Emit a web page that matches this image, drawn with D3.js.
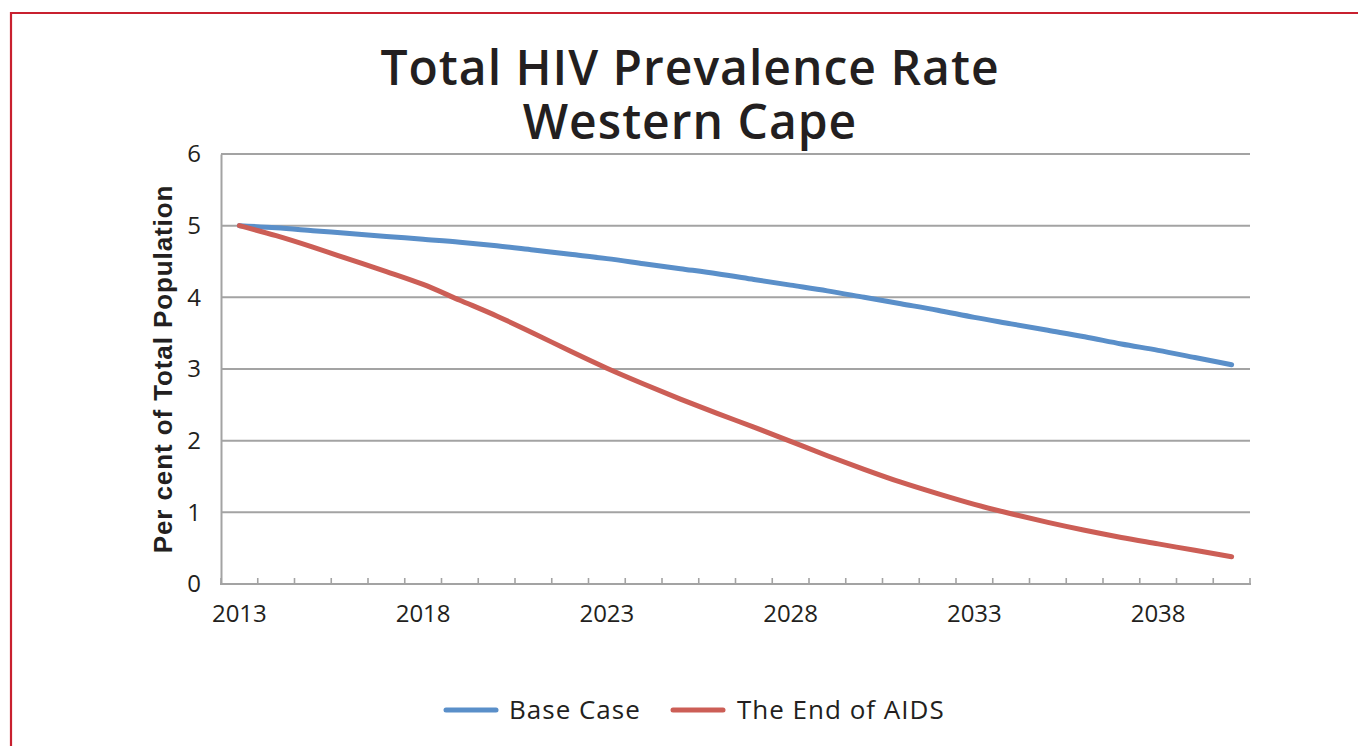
<!DOCTYPE html>
<html>
<head>
<meta charset="utf-8">
<script src="https://cdn.jsdelivr.net/npm/d3@7"></script>
<style>
  html, body { margin: 0; padding: 0; background: #fff; }
  svg { display: block; }
  text { font-family: "Open Sans", "Noto Sans", sans-serif; fill: #231f20; }
</style>
</head>
<body>
<svg id="chart" width="1358" height="746"></svg>
<script>
const years = [2013,2014,2015,2016,2017,2018,2019,2020,2021,2022,2023,2024,2025,2026,2027,2028,2029,2030,2031,2032,2033,2034,2035,2036,2037,2038,2039,2040];
const baseCase = [5.00,4.97,4.93,4.89,4.85,4.81,4.77,4.72,4.66,4.60,4.54,4.47,4.40,4.33,4.25,4.17,4.09,4.00,3.91,3.82,3.72,3.63,3.54,3.45,3.35,3.26,3.16,3.06];
const endOfAids = [5.00,4.86,4.70,4.53,4.36,4.18,3.96,3.74,3.50,3.25,3.01,2.79,2.58,2.38,2.19,1.99,1.79,1.60,1.42,1.26,1.11,0.98,0.86,0.75,0.65,0.56,0.47,0.38];
const yTicks = [0,1,2,3,4,5,6];
const xLabelYears = [2013,2018,2023,2028,2033,2038];
const seriesNames = ["Base Case", "The End of AIDS"];
const seriesColors = ["#5a8fc9", "#cc5e56"];
const titleLines = ["Total HIV Prevalence Rate", "Western Cape"];
const yAxisTitle = "Per cent of Total Population";

const svg = d3.select("#chart");
const pLeft = 221, pRight = 1250, pTop = 154, pBottom = 584;

// frame
svg.append("path")
  .attr("d", `M11,760 L11,13 L1370,13`)
  .attr("fill", "none").attr("stroke", "#c8202f").attr("stroke-width", 2.2);

const x = d3.scaleBand().domain(years).range([pLeft, pRight]).padding(0);
const y = d3.scaleLinear().domain([0, 6]).range([pBottom, pTop]);

// gridlines
svg.append("g").selectAll("line").data(yTicks.filter(d => d > 0)).join("line")
  .attr("x1", pLeft).attr("x2", pRight)
  .attr("y1", d => y(d)).attr("y2", d => y(d))
  .attr("stroke", "#a3a3a3").attr("stroke-width", 2);

// y axis
const yAxis = svg.append("g").attr("transform", `translate(${pLeft},0)`)
  .call(d3.axisLeft(y).tickValues(yTicks).tickFormat(d3.format("d")).tickSize(0).tickPadding(20));
yAxis.select(".domain").attr("stroke", "#a3a3a3").attr("stroke-width", 2);
yAxis.selectAll("text").style("font-size", "24px").attr("fill", "#231f20")
  .style("font-family", "'Open Sans', sans-serif");

// x axis line
svg.append("line").attr("x1", pLeft - 1).attr("x2", pRight + 1)
  .attr("y1", pBottom).attr("y2", pBottom)
  .attr("stroke", "#a3a3a3").attr("stroke-width", 2);
// tick marks at band boundaries
const boundaries = years.map(d => x(d)).concat([x(years[years.length - 1]) + x.bandwidth()]);
svg.append("g").selectAll("line").data(boundaries).join("line")
  .attr("x1", d => d).attr("x2", d => d)
  .attr("y1", pBottom).attr("y2", pBottom - 6)
  .attr("stroke", "#a3a3a3").attr("stroke-width", 1.6);
// x labels
svg.append("g").selectAll("text").data(xLabelYears).join("text")
  .attr("x", d => x(d) + x.bandwidth() / 2)
  .attr("y", pBottom + 38)
  .attr("text-anchor", "middle")
  .style("font-size", "24px")
  .text(d => d);

// y axis title
svg.append("text")
  .attr("transform", `translate(172,${(pTop + pBottom) / 2}) rotate(-90)`)
  .attr("text-anchor", "middle")
  .style("font-size", "26px").style("font-weight", "bold")
  .style("letter-spacing", "0.9px")
  .style("font-family", "'Liberation Sans', Arial, sans-serif")
  .text(yAxisTitle);

// title (one text element, two lines)
const title = svg.append("text")
  .attr("text-anchor", "middle")
  .style("font-size", "48px").style("font-weight", 600)
  .style("letter-spacing", "1px");
title.selectAll("tspan").data(titleLines).join("tspan")
  .attr("x", 690).attr("y", (d, i) => 85 + i * 54)
  .text(d => d);

// lines
const line = d3.line()
  .x((d, i) => x(years[i]) + x.bandwidth() / 2)
  .y(d => y(d))
  .curve(d3.curveMonotoneX);
[baseCase, endOfAids].forEach((s, k) => {
  svg.append("path").datum(s)
    .attr("d", line)
    .attr("fill", "none")
    .attr("stroke", seriesColors[k])
    .attr("stroke-width", 5)
    .attr("stroke-linecap", "round")
    .attr("stroke-linejoin", "round");
});

// legend
const legendItems = [{x: 446, tx: 509}, {x: 673, tx: 737}];
seriesNames.forEach((name, k) => {
  const g = svg.append("g");
  g.append("line").attr("x1", legendItems[k].x).attr("x2", legendItems[k].x + 50)
    .attr("y1", 710).attr("y2", 710)
    .attr("stroke", seriesColors[k]).attr("stroke-width", 5).attr("stroke-linecap", "round");
  g.append("text").attr("x", legendItems[k].tx).attr("y", 719)
    .style("font-size", "26px").style("letter-spacing", "1px").text(name);
});
</script>
</body>
</html>
